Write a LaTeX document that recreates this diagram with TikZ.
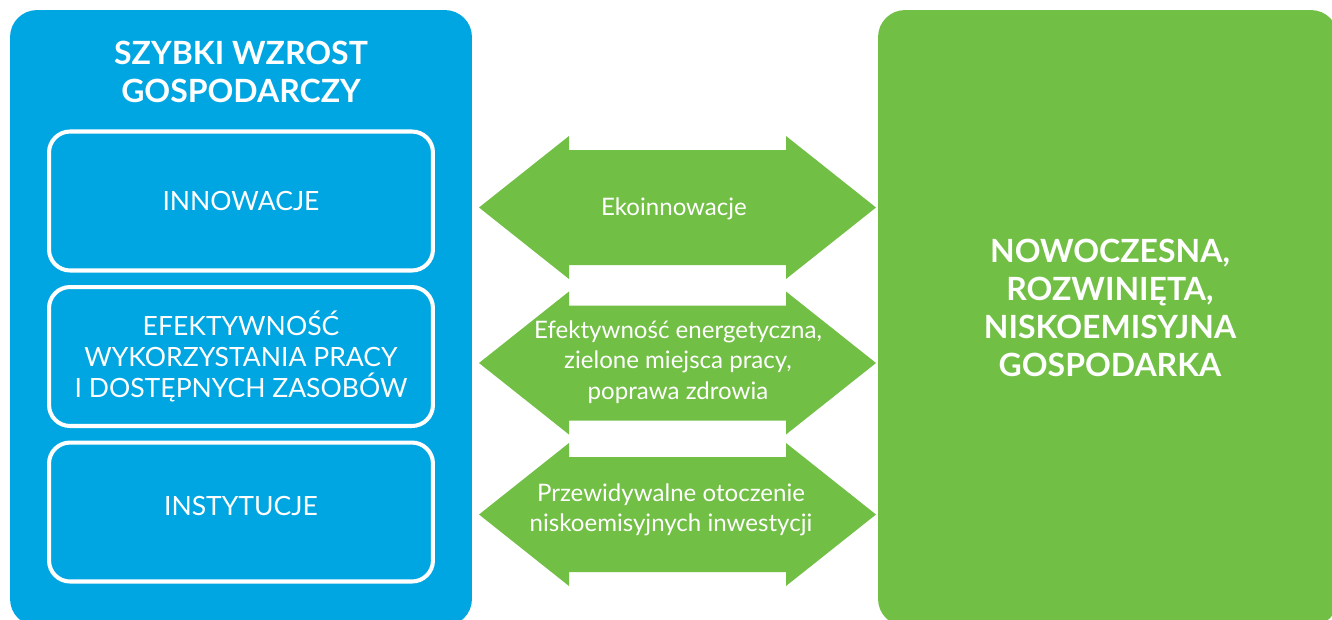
\documentclass[tikz,border=0pt]{standalone}
\usepackage{fontspec}
\setmainfont{Lato}
\usetikzlibrary{positioning}
\definecolor{growthblue}{RGB}{0,166,226}
\definecolor{lowgreen}{RGB}{114,191,69}

\begin{document}
\begin{tikzpicture}[x=0.02cm, y=-0.02cm, node distance=0.25cm, align=center, text=white,
  panel/.style={shape=rectangle, rounded corners=0.54cm, inner sep=0pt, minimum height=12.32cm},
  factor/.style={draw=white, line width=2.3pt, shape=rectangle, rounded corners=0.42cm, minimum width=7.68cm, minimum height=2.78cm, inner sep=0pt, font=\fontsize{15.1}{17.7}\selectfont},
  heading/.style={font=\bfseries\fontsize{18.2}{21.7}\selectfont},
  linktext/.style={font=\fontsize{13.7}{17.4}\selectfont},
  link/.style={fill=lowgreen}]

      \clip (0,0) rectangle (1332,619);

      \node[panel, fill=growthblue, minimum width=9.24cm] (growth) at (241,318) {};
      \node[heading] (growthTitle) at (241,72) {SZYBKI WZROST\\GOSPODARCZY};

      \node[factor] (innovation) at (241,201) {INNOWACJE};
      \node[factor, below=of innovation] (efficiency) {EFEKTYWNOŚĆ\\WYKORZYSTANIA PRACY\\I DOSTĘPNYCH ZASOBÓW};
      \node[factor, below=of efficiency, text height=10.9pt, text depth=6.8pt] (institutions) {INSTYTUCJE};

      \node[panel, fill=lowgreen, minimum width=9.2cm] (economy) at (1108,318) {};
      \node[heading] (economyTitle) at (1110,308) {NOWOCZESNA,\\ROZWINIĘTA,\\NISKOEMISYJNA\\GOSPODARKA};

      \fill[link] (479,207.5) -- ++(90,-71.5) -- ++(0,14) -- ++(217,0) -- ++(0,-14) -- ++(90,71.5) -- ++(-90,71.5) -- ++(0,-14) -- ++(-217,0) -- ++(0,14) -- cycle;
      \fill[link] (479,363) -- ++(90,-71.5) -- ++(0,14) -- ++(217,0) -- ++(0,-14) -- ++(90,71.5) -- ++(-90,71.5) -- ++(0,-14) -- ++(-217,0) -- ++(0,14) -- cycle;
      \fill[link] (479,514.5) -- ++(90,-71.5) -- ++(0,14) -- ++(217,0) -- ++(0,-14) -- ++(90,71.5) -- ++(-90,71.5) -- ++(0,-14) -- ++(-217,0) -- ++(0,14) -- cycle;

      \node[linktext] (ecoinnovation) at (674,209) {Ekoinnowacje};
      \node[linktext] (energy) at (678,362) {Efektywność energetyczna,\\zielone miejsca pracy,\\poprawa zdrowia};
      \node[linktext] (investment) at (671,510) {Przewidywalne otoczenie\\niskoemisyjnych inwestycji};
\end{tikzpicture}
\end{document}
